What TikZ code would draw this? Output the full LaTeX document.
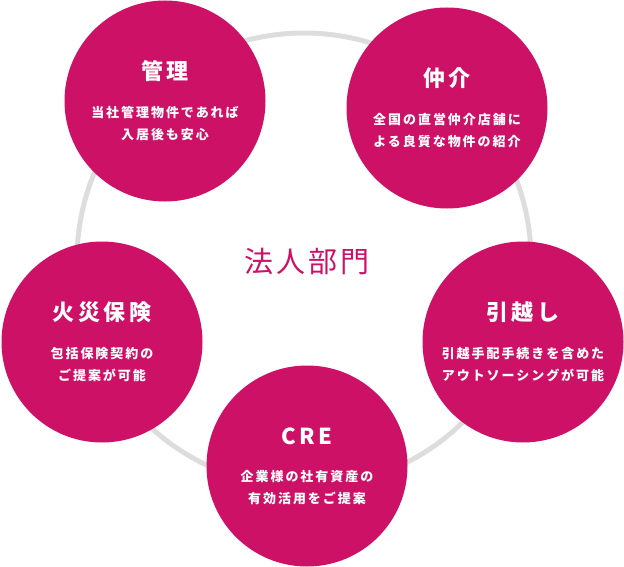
\documentclass[tikz,border=0pt]{standalone}
\usepackage{fontspec}
\setmainfont{Noto Sans CJK JP}
\usepackage{tikz}
\definecolor{bumon}{HTML}{CC1166}
\definecolor{ringgray}{HTML}{DDDDDD}

\begin{document}
\begin{tikzpicture}[x=1pt, y=-1pt,
  service circle/.style={circle, fill=bumon, minimum size=201pt, inner sep=0pt},
  service label/.style={text=white, font=\bfseries\fontsize{22}{24}\selectfont\addfontfeatures{LetterSpace=17}},
  service text/.style={text=white, inner sep=0pt, font=\bfseries\fontsize{13}{22}\selectfont\addfontfeatures{LetterSpace=15}}]
\useasboundingbox (0,0) rectangle (624,567);

\coordinate (ring center) at (304, 260);
\draw[line width=5, color=ringgray] (ring center) circle[radius=227pt];
\node[text=bumon, font=\fontsize{29}{32}\selectfont\addfontfeatures{LetterSpace=10}] (houjin label) at (307, 262) {法人部門};

\node[service circle] (kanri circle) at (165, 101) {};
\node[service label] (kanri label) at ([yshift=30pt]kanri circle.center) {管理};
\node[service text] (kanri text) at ([yshift=-23pt]kanri circle.center) {\begin{tabular}{c}
当社管理物件であれば \\
入居後も安心
\end{tabular}};

\node[service circle] (chukai circle) at (447, 108) {};
\node[service label] (chukai label) at ([yshift=30pt]chukai circle.center) {仲介};
\node[service text] (chukai text) at ([yshift=-23pt]chukai circle.center) {\begin{tabular}{c}
全国の直営仲介店舗に \\
よる良質な物件の紹介
\end{tabular}};

\node[service circle] (kasai circle) at (102, 342) {};
\node[service label] (kasai label) at ([yshift=30pt]kasai circle.center) {火災保険};
\node[service text] (kasai text) at ([yshift=-23pt]kasai circle.center) {\begin{tabular}{c}
包括保険契約の \\
ご提案が可能
\end{tabular}};

\node[service circle] (hikkoshi circle) at (523, 342) {};
\node[service label] (hikkoshi label) at ([yshift=30pt]hikkoshi circle.center) {引越し};
\node[service text] (hikkoshi text) at ([yshift=-23pt]hikkoshi circle.center) {\begin{tabular}{c}
引越手配手続きを含めた \\
アウトソーシングが可能
\end{tabular}};

\node[service circle] (cre circle) at (307, 466) {};
\node[service label] (cre label) at ([yshift=30pt]cre circle.center) {CRE};
\node[service text] (cre text) at ([yshift=-22pt]cre circle.center) {\begin{tabular}{c}
企業様の社有資産の \\
有効活用をご提案
\end{tabular}};
\end{tikzpicture}
\end{document}
